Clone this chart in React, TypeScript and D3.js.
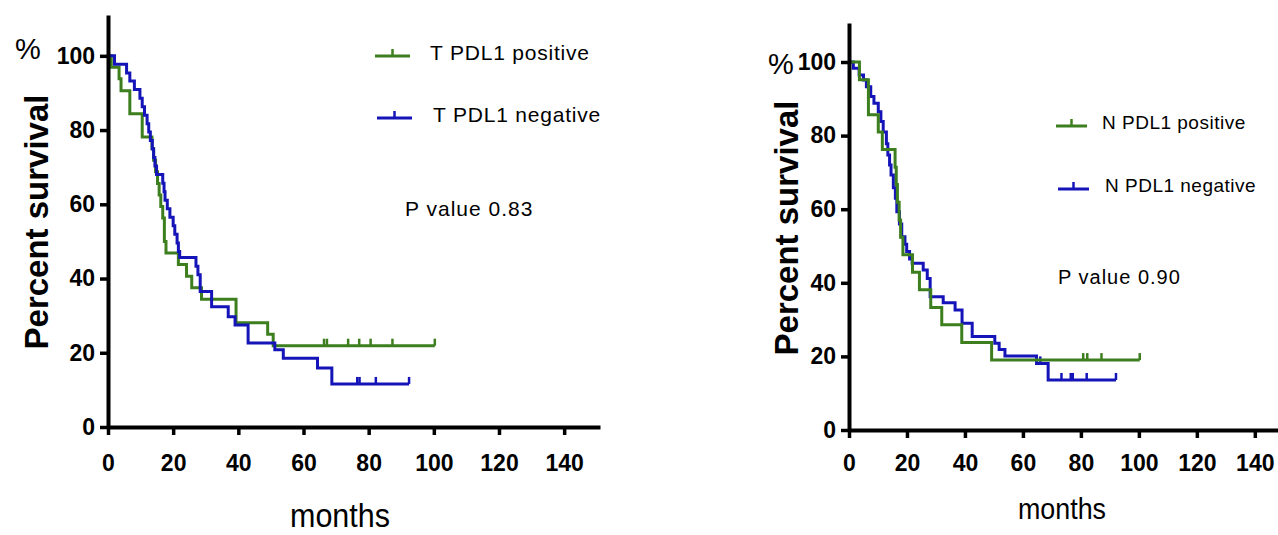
import React, { useEffect, useRef } from 'react';
import * as d3 from 'd3';

// left panel: tumour PDL1
const tPosMonths = [0, 1, 3.4, 4, 6.7, 10.5, 13.5, 14, 14.6, 15.2, 15.7, 16.2, 16.8, 17.3, 17.8, 21.6, 24.1, 25.7, 28.7, 39.3, 49, 50.7, 100.3];
const tPosSurvival = [100, 96.9, 93.8, 90.6, 84.4, 78.1, 75, 71.9, 68.8, 65.6, 62.5, 59.4, 56.3, 50, 46.9, 43.8, 40.6, 37.5, 34.4, 28.1, 25, 21.9, 21.9];
const tPosCensored = [66.3, 67.2, 73.7, 77.1, 80.6, 87.3, 100.3];

const tNegMonths = [0, 2, 5.7, 6.7, 8.1, 9.8, 10.5, 11.2, 12, 12.5, 13, 13.6, 14, 14.4, 14.9, 16.8, 17.2, 17.5, 18.2, 19, 20, 20.5, 21.2, 21.6, 22, 27, 27.6, 28.3, 31.8, 36.9, 39, 43, 51.2, 53.8, 64.3, 68.7, 92.4];
const tNegSurvival = [100, 97.7, 95.4, 93.2, 90.9, 88.6, 86.3, 84, 81.7, 79.5, 77.2, 74.9, 72.6, 70.3, 68, 65.7, 63.4, 61.1, 58.8, 56.5, 54.2, 51.9, 49.6, 47.3, 45.7, 43.3, 41, 36.5, 32.4, 29.7, 27.5, 22.6, 20.8, 18.5, 15.9, 11.6, 11.6];
const tNegCensored = [76.5, 77.2, 82.2, 92.4];

// right panel: nodal PDL1
const nPosMonths = [0, 3.6, 6.7, 10.1, 11.5, 15.9, 16.3, 16.7, 17.3, 17.8, 18.6, 21.9, 24.3, 28.2, 32, 38.9, 49.2, 100.3];
const nPosSurvival = [100, 95.2, 85.7, 81, 76.2, 71.4, 66.7, 61.9, 57.1, 52.4, 47.6, 42.9, 38.1, 33.3, 28.6, 23.8, 19, 19];
const nPosCensored = [80.8, 82.2, 87.1, 100.3];

const nNegMonths = [0, 1.5, 3.5, 5, 6, 7.5, 8.6, 10.1, 11, 11.8, 12.9, 13.4, 14, 14.5, 15.3, 16, 16.5, 17.4, 18.2, 19.3, 19.9, 20.9, 21.8, 25.6, 27, 28, 32.5, 36.6, 39, 42.5, 50.3, 51.8, 53.8, 64.7, 68.7, 92.1];
const nNegSurvival = [100, 98.3, 96.5, 95.1, 93.3, 90.6, 88.8, 86.5, 83.8, 81, 77.8, 74.7, 72, 69.3, 65.8, 63, 59.3, 56, 52.5, 50.5, 48.5, 46.5, 45.3, 43.5, 41.2, 36.2, 34.6, 32.6, 29, 25.4, 23.6, 21.9, 20.1, 18.1, 13.6, 13.6];
const nNegCensored = [66, 73.3, 76.5, 77.2, 82, 92.1];

const xTicks = [0, 20, 40, 60, 80, 100, 120, 140];
const yTicks = [0, 20, 40, 60, 80, 100];

const GREEN = '#3d7f1f';
const BLUE = '#1414b8';
const FONT = '"Liberation Sans", Arial, sans-serif';

type Series = {
  label: string;
  color: string;
  months: number[];
  survival: number[];
  censored: number[];
};

type PanelLayout = {
  x0: number; x1: number; xMax: number;
  y0: number; y1: number; yMax: number;
  xPad: number;
  tickFont: number;
  percentX: number; percentY: number;
  ylabelX: number; ylabelY: number; ylabelFont: number;
  monthsX: number; monthsY: number; monthsFont: number; monthsW: number;
  legendX: number; legendY: number[]; legendTextX: number[]; legendW: number;
  legendFont: number; legendSpacing: number;
  pX: number; pY: number; pText: string; pFont: number; pSpacing: number;
  drawOrder: number[];
};

const drawPanel = (
  g: d3.Selection<SVGGElement, unknown, null, undefined>,
  series: Series[],
  L: PanelLayout
) => {
  const x = d3.scaleLinear().domain([0, L.xMax]).range([L.x0, L.x1]);
  const y = d3.scaleLinear().domain([0, L.yMax]).range([L.y0, L.y1]);

  const line = d3.line<[number, number]>()
    .x(d => x(d[0]))
    .y(d => y(d[1]))
    .curve(d3.curveStepAfter);

  L.drawOrder.forEach(i => {
    const s = series[i];
    const pts = s.months.map((m, j) => [m, s.survival[j]] as [number, number]);
    g.append('path')
      .datum(pts)
      .attr('fill', 'none')
      .attr('stroke', s.color)
      .attr('stroke-width', 3)
      .attr('d', line);

    // censor ticks
    const levelAt = (m: number) => {
      let v = s.survival[0];
      s.months.forEach((t, j) => { if (t <= m) v = s.survival[j]; });
      return v;
    };
    g.selectAll(null)
      .data(s.censored)
      .enter()
      .append('line')
      .attr('x1', d => x(d))
      .attr('x2', d => x(d))
      .attr('y1', d => y(levelAt(d)))
      .attr('y2', d => y(levelAt(d)) - 7)
      .attr('stroke', s.color)
      .attr('stroke-width', 2.5);
  });

  // axes
  const xAxis = g.append('g')
    .attr('transform', `translate(0,${L.y0})`)
    .call(d3.axisBottom(x).tickValues(xTicks).tickSize(8).tickSizeOuter(0).tickPadding(L.xPad));
  const yAxis = g.append('g')
    .attr('transform', `translate(${L.x0},0)`)
    .call(d3.axisLeft(y).tickValues(yTicks).tickSize(8).tickSizeOuter(0).tickPadding(5));

  [xAxis, yAxis].forEach(a => {
    a.select('.domain').attr('stroke', '#000').attr('stroke-width', 4);
    a.selectAll('.tick line').attr('stroke', '#000').attr('stroke-width', 3.5);
    a.selectAll('.tick text')
      .attr('fill', '#000')
      .style('font-family', FONT)
      .style('font-size', `${L.tickFont}px`)
      .style('font-weight', 'bold');
  });

  g.append('text')
    .attr('x', L.percentX)
    .attr('y', L.percentY)
    .attr('text-anchor', 'middle')
    .attr('dominant-baseline', 'central')
    .style('font-family', FONT)
    .style('font-size', '29px')
    .text('%');

  g.append('text')
    .attr('transform', `translate(${L.ylabelX},${L.ylabelY}) rotate(-90)`)
    .attr('text-anchor', 'middle')
    .attr('dominant-baseline', 'central')
    .style('font-family', FONT)
    .style('font-size', `${L.ylabelFont}px`)
    .style('font-weight', 'bold')
    .text('Percent survival');

  g.append('text')
    .attr('x', L.monthsX - L.monthsW / 2)
    .attr('y', L.monthsY)
    .attr('textLength', L.monthsW)
    .attr('lengthAdjust', 'spacingAndGlyphs')
    .style('font-family', FONT)
    .style('font-size', `${L.monthsFont}px`)
    .text('months');

  // legend
  series.forEach((s, i) => {
    const ly = L.legendY[i];
    const lx = L.legendX + i * 2;
    g.append('line')
      .attr('x1', lx).attr('x2', lx + L.legendW)
      .attr('y1', ly).attr('y2', ly)
      .attr('stroke', s.color).attr('stroke-width', 3);
    g.append('line')
      .attr('x1', lx + L.legendW / 2).attr('x2', lx + L.legendW / 2)
      .attr('y1', ly).attr('y2', ly - 7)
      .attr('stroke', s.color).attr('stroke-width', 2.5);
    g.append('text')
      .attr('x', L.legendTextX[i])
      .attr('y', ly - 4)
      .attr('dominant-baseline', 'central')
      .style('font-family', FONT)
      .style('font-size', `${L.legendFont}px`)
      .style('letter-spacing', `${L.legendSpacing}px`)
      .text(s.label);
  });

  g.append('text')
    .attr('x', L.pX)
    .attr('y', L.pY)
    .attr('dominant-baseline', 'central')
    .style('font-family', FONT)
    .style('font-size', `${L.pFont}px`)
    .style('letter-spacing', `${L.pSpacing}px`)
    .text(L.pText);
};

const App: React.FC = () => {
  const svgRef = useRef<SVGSVGElement | null>(null);

  useEffect(() => {
    const svg = d3.select(svgRef.current);
    svg.selectAll('*').remove();

    drawPanel(svg.append('g'), [
      { label: 'T PDL1 positive', color: GREEN, months: tPosMonths, survival: tPosSurvival, censored: tPosCensored },
      { label: 'T PDL1 negative', color: BLUE, months: tNegMonths, survival: tNegSurvival, censored: tNegCensored },
    ], {
      x0: 108, x1: 600, xMax: 151,
      y0: 427, y1: 15, yMax: 111,
      xPad: 20, tickFont: 23,
      percentX: 28, percentY: 49,
      ylabelX: 36, ylabelY: 222, ylabelFont: 33,
      monthsX: 340, monthsY: 527, monthsFont: 33, monthsW: 100,
      legendX: 375, legendY: [56, 118], legendTextX: [430, 433], legendW: 35,
      legendFont: 21, legendSpacing: 0.8,
      pX: 405, pY: 208, pText: 'P value 0.83', pFont: 21, pSpacing: 1,
      drawOrder: [0, 1],
    });

    drawPanel(svg.append('g'), [
      { label: 'N PDL1 positive', color: GREEN, months: nPosMonths, survival: nPosSurvival, censored: nPosCensored },
      { label: 'N PDL1 negative', color: BLUE, months: nNegMonths, survival: nNegSurvival, censored: nNegCensored },
    ], {
      x0: 849, x1: 1278, xMax: 148,
      y0: 430, y1: 23, yMax: 110.6,
      xPad: 17, tickFont: 23,
      percentX: 781, percentY: 64,
      ylabelX: 786, ylabelY: 228, ylabelFont: 33,
      monthsX: 1062, monthsY: 519, monthsFont: 30, monthsW: 88,
      legendX: 1056, legendY: [126, 189], legendTextX: [1102, 1105], legendW: 31,
      legendFont: 19, legendSpacing: 0.5,
      pX: 1058, pY: 277, pText: 'P value 0.90', pFont: 20, pSpacing: 1,
      drawOrder: [1, 0],
    });
  }, []);

  return (
    <svg
      ref={svgRef}
      width={1278}
      height={535}
      style={{ position: 'absolute', left: 0, top: 0, background: '#fff' }}
    />
  );
};

export default App;
